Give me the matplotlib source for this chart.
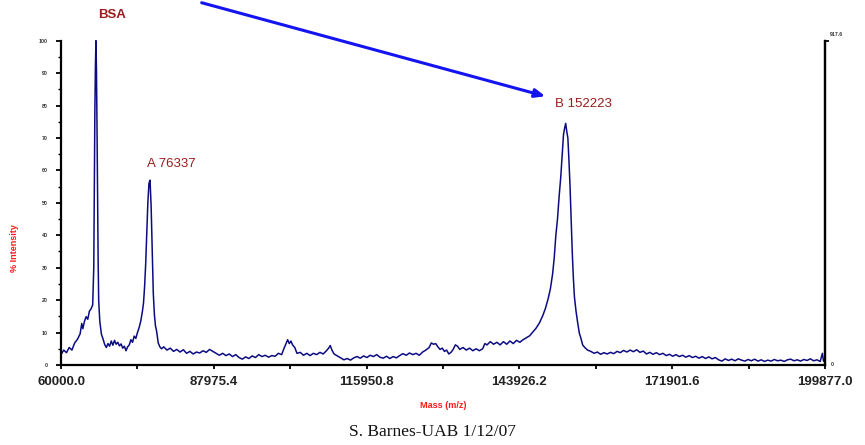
import matplotlib
matplotlib.use("Agg")
import matplotlib.pyplot as plt
from matplotlib.ticker import FixedLocator, MultipleLocator

# deconvoluted spectrum, mass in kDa, intensity in %
mass_kda = [
    60.0, 60.5, 61.0, 61.5, 62.0, 62.5, 63.0, 63.5, 63.8, 64.0, 64.3, 64.6, 64.9,
    65.2, 65.5, 65.8, 66.0, 66.1, 66.2, 66.3, 66.4, 66.5, 66.6, 66.7, 66.8, 66.9,
    67.1, 67.4, 67.7, 68.0, 68.3, 68.6, 68.9, 69.2, 69.5, 69.8, 70.1, 70.4, 70.7,
    71.0, 71.3, 71.6, 71.9, 72.2, 72.5, 72.8, 73.1, 73.4, 73.7, 74.0, 74.3, 74.6,
    74.9, 75.1, 75.3, 75.5, 75.7, 75.9, 76.1, 76.3, 76.5, 76.7, 76.9, 77.1, 77.3,
    77.5, 77.8, 78.1, 78.4, 78.8, 79.4, 80.0, 80.6, 81.2, 81.8, 82.4, 83.0, 83.6,
    84.2, 84.8, 85.4, 86.0, 86.6, 87.2, 87.8, 88.4, 89.0, 89.6, 90.2, 90.8, 91.4,
    92.0, 92.6, 93.2, 93.8, 94.4, 95.0, 95.6, 96.2, 96.8, 97.4, 98.0, 98.6, 99.2,
    99.8, 100.4, 100.8, 101.2, 101.5, 101.8, 102.1, 102.4, 102.8, 103.2, 103.8,
    104.4, 105.0, 105.6, 106.2, 106.8, 107.4, 108.0, 108.6, 109.0, 109.3, 109.6,
    110.0, 110.6, 111.2, 111.8, 112.4, 113.0, 113.6, 114.2, 114.8, 115.4, 116.0,
    116.6, 117.2, 117.8, 118.4, 119.0, 119.6, 120.2, 120.8, 121.4, 122.0, 122.6,
    123.2, 123.8, 124.4, 125.0, 125.6, 126.2, 126.8, 127.4, 127.8, 128.2, 128.6,
    129.0, 129.4, 129.8, 130.2, 130.6, 131.0, 131.4, 131.8, 132.2, 132.6, 133.0,
    133.6, 134.2, 134.8, 135.4, 136.0, 136.6, 137.2, 137.6, 138.0, 138.6, 139.2,
    139.8, 140.4, 141.0, 141.6, 142.2, 142.8, 143.4, 144.0, 144.6, 145.2, 145.8,
    146.4, 147.0, 147.6, 148.2, 148.7, 149.2, 149.6, 150.0, 150.3, 150.6, 150.9,
    151.2, 151.5, 151.8, 152.0, 152.2, 152.4, 152.6, 152.8, 153.0, 153.2, 153.4,
    153.6, 153.8, 154.0, 154.3, 154.6, 154.9, 155.2, 155.5, 155.9, 156.4, 157.0,
    157.6, 158.2, 158.8, 159.4, 160.0, 160.6, 161.2, 161.8, 162.4, 163.0, 163.6,
    164.2, 164.8, 165.4, 166.0, 166.6, 167.2, 167.8, 168.4, 169.0, 169.6, 170.2,
    170.8, 171.4, 172.0, 172.6, 173.2, 173.8, 174.4, 175.0, 175.6, 176.2, 176.8,
    177.4, 178.0, 178.6, 179.2, 179.8, 180.4, 181.0, 181.6, 182.2, 182.8, 183.4,
    184.0, 184.6, 185.2, 185.8, 186.4, 187.0, 187.6, 188.2, 188.8, 189.4, 190.0,
    190.6, 191.2, 191.8, 192.4, 193.0, 193.6, 194.2, 194.8, 195.4, 196.0, 196.6,
    197.2, 197.8, 198.4, 199.0, 199.4, 199.6, 199.877,
]
intensity = [
    3.2, 4.6, 3.8, 5.4, 4.6, 6.8, 7.9, 9.6, 12.8, 11.2, 13.5, 14.9, 14.1,
    16.6, 17.3, 18.5, 30, 55, 78, 92, 100, 90, 72, 50, 32, 20,
    13.5, 9.5, 8.0, 6.3, 5.4, 6.6, 5.8, 7.4, 6.1, 7.6, 6.4, 7.0, 5.9,
    6.5, 5.2, 5.8, 4.4, 5.6, 6.2, 7.8, 7.0, 8.9, 8.2, 10.0, 11.5, 13.5,
    16.5, 19.0, 24, 31, 41, 50, 56, 57, 49, 35, 22, 15.5, 12.0,
    10.5, 6.8, 5.6, 5.0, 5.6, 4.6, 5.2, 4.2, 4.8, 4.0, 4.7, 3.6, 4.2,
    3.4, 4.0, 3.7, 4.4, 3.9, 4.8, 4.2, 3.6, 3.0, 3.6, 2.9, 3.4, 2.6,
    3.2, 2.3, 1.8, 2.5, 2.0, 2.8, 2.3, 3.2, 2.6, 3.0, 2.4, 2.9, 2.7,
    3.6, 3.2, 5.0, 6.6, 7.8, 6.6, 7.4, 6.2, 5.4, 3.6, 3.9,
    3.0, 3.6, 2.9, 3.6, 3.2, 3.9, 3.4, 4.4, 5.2, 6.0, 4.6,
    3.4, 2.8, 2.2, 1.6, 2.0, 1.5, 2.2, 2.6, 2.1, 2.8, 2.3,
    3.0, 2.6, 3.2, 2.4, 2.1, 2.7, 2.0, 2.6, 2.2, 2.9, 3.5,
    3.0, 3.7, 3.2, 3.6, 3.0, 4.0, 4.6, 5.4, 6.8, 6.4, 6.6,
    5.6, 4.8, 5.2, 4.2, 4.6, 3.4, 3.9, 4.8, 6.2, 5.8, 4.8,
    5.4, 4.6, 5.2, 4.4, 5.0, 4.4, 5.0, 6.6, 6.2, 7.2, 6.4,
    7.0, 6.2, 7.2, 6.4, 7.4, 6.6, 7.6, 7.0, 7.8, 8.4, 9.0,
    10.2, 11.4, 13.0, 15.2, 17.5, 20.5, 23.5, 28, 33, 40, 45,
    52, 58, 66, 71, 73, 74.5, 72, 70, 63, 55, 45,
    35, 27, 21, 16.5, 13, 9.8, 8.2, 6.2, 5.4, 4.6, 4.2,
    3.6, 4.0, 3.3, 3.8, 3.4, 3.9, 3.5, 4.2, 3.8, 4.5, 4.0,
    4.6, 4.1, 4.7, 3.9, 4.3, 3.4, 3.9, 3.3, 3.8, 3.2, 3.6,
    2.9, 3.3, 2.7, 3.2, 2.6, 3.0, 2.4, 2.9, 2.3, 2.7, 2.1,
    2.6, 2.0, 2.5, 1.9, 2.3, 1.6, 1.2, 1.9, 1.4, 1.8, 1.3,
    1.9, 1.5, 1.2, 1.7, 1.3, 1.8, 1.2, 1.6, 1.1, 1.5, 1.2,
    1.7, 1.3, 1.5, 1.1, 1.6, 1.8, 1.3, 1.6, 1.2, 1.7, 1.4,
    1.9, 1.3, 1.6, 1.1, 3.6, 1.2, 1.0,
]

x_ticks = [60000.0, 87975.4, 115950.8, 143926.2, 171901.6, 199877.0]
right_max = 917.6

peak_labels = ["A 76337", "B 152223"]
peak_label_pos = [(75700, 62), (150400, 80.5)]

DARK_RED = "#9b1c1c"
RED = "#ff1a1a"
NAVY = "#0c0c82"

mass = [m * 1000 for m in mass_kda]

fig = plt.figure(figsize=(8.65, 4.45), dpi=100)
ax = fig.add_axes([61 / 865, 1 - 365 / 445, 764 / 865, 324.3 / 445])

ax.plot(mass, intensity, color=NAVY, lw=1.1, clip_on=False)
ax.set_xlim(x_ticks[0], x_ticks[-1])
ax.set_ylim(0, 100)

for side in ("left", "bottom", "right"):
    ax.spines[side].set_linewidth(1.6)
ax.spines["top"].set_visible(False)

ax.xaxis.set_major_locator(FixedLocator(x_ticks))
ax.xaxis.set_minor_locator(FixedLocator(
    [(a + b) / 2 for a, b in zip(x_ticks[:-1], x_ticks[1:])]))
ax.set_xticklabels([f"{t:.1f}" for t in x_ticks], fontsize=9.5,
                   fontweight="bold", family="Liberation Sans", color="#222222")
ax.tick_params(axis="x", which="major", length=3, width=1.3, pad=5)
ax.tick_params(axis="x", which="minor", length=3, width=1.3)

ax.yaxis.set_major_locator(MultipleLocator(10))
ax.yaxis.set_minor_locator(MultipleLocator(5))
ax.tick_params(axis="y", which="major", length=3.5, width=1.3, pad=6,
               labelsize=3.8, labelcolor="#333333")
ax.tick_params(axis="y", which="minor", length=2, width=1.0)
for lab in ax.get_yticklabels():
    lab.set_fontweight("bold")
    lab.set_family("Liberation Sans")

# right-hand absolute scale
ax2 = ax.twinx()
ax2.set_ylim(0, right_max)
ax2.set_yticks([right_max])
ax2.set_yticklabels([])
ax2.tick_params(axis="y", length=3, width=1.3)
for s in ("top", "left", "bottom"):
    ax2.spines[s].set_visible(False)
ax2.spines["right"].set_linewidth(1.6)
ax2.text(1.007, 1.012, f"{right_max}", transform=ax2.transAxes, fontsize=3.8,
         fontweight="bold", color="#333333", family="Liberation Sans", va="bottom")
ax2.text(1.008, 0.0, "0", transform=ax2.transAxes, fontsize=3.8,
         fontweight="bold", color="#333333", family="Liberation Sans", va="center")

ax.set_ylabel("% Intensity", fontsize=6.5, fontweight="bold", color=RED,
              family="Liberation Sans")
ax.yaxis.set_label_coords(-0.055, 0.36)
ax.set_xlabel("Mass (m/z)", fontsize=6.6, fontweight="bold", color=RED,
              family="Liberation Sans", labelpad=9)

# annotations
fig.text(112 / 865, 1 - 15 / 445, "BSA", fontsize=9.5, fontweight="bold",
         color=DARK_RED, family="Liberation Sans", ha="center", va="center")
for lab, (lx, ly) in zip(peak_labels, peak_label_pos):
    ax.text(lx, ly, lab, fontsize=9.5, color=DARK_RED, family="Liberation Sans",
            ha="left", va="center")

ax.annotate("", xy=(548 / 865, 1 - 97 / 445), xycoords="figure fraction",
            xytext=(199 / 865, 1 - 2 / 445), textcoords="figure fraction",
            arrowprops=dict(arrowstyle="-|>,head_length=0.6,head_width=0.25",
                            color="#1414f0", lw=2.2))

fig.text(0.5, 1 - 432 / 445, "S. Barnes-UAB 1/12/07", fontsize=12.5,
         family="Liberation Serif", ha="center", va="center", color="#111111")

fig.savefig("out.png", dpi=100)
